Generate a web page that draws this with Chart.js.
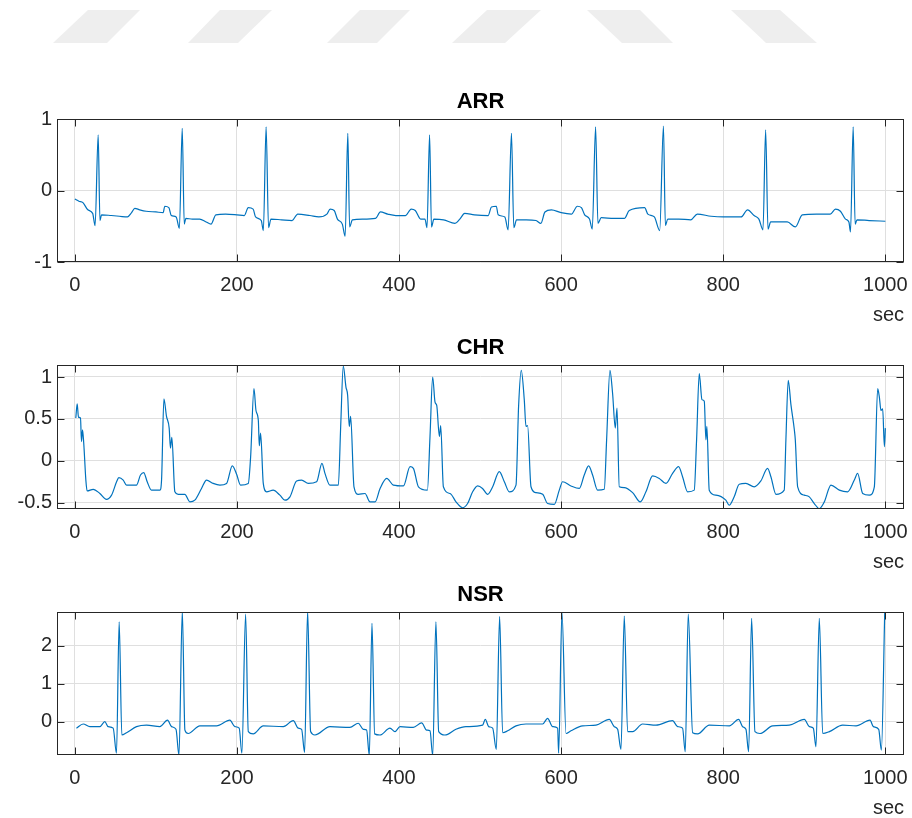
<!DOCTYPE html>
<html>
<head>
<meta charset="utf-8">
<script src="https://cdn.jsdelivr.net/npm/chart.js@4.4.1/dist/chart.umd.min.js"></script>
<style>
    html, body { margin: 0; padding: 0; background: #fff; overflow: hidden; }
    body { width: 912px; height: 818px; position: relative; }
    canvas { position: absolute; left: 0; }
    #wm { position: absolute; left: 0; top: 0; }
</style>
</head>
<body>
<svg id="wm" width="912" height="60">
    <g fill="#eeeeee">
        <polygon points="88,10 140,10 107,43 53,43"/>
        <polygon points="220,10 272,10 238,43 188,43"/>
        <polygon points="360,10 410,10 377,43 327,43"/>
        <polygon points="487,10 541,10 505,43 452,43"/>
        <polygon points="587,10 640,10 673,43 622,43"/>
        <polygon points="731,10 780,10 817,43 766,43"/>
    </g>
</svg>
<canvas id="arrChart" width="912" height="250" style="top:80px"></canvas>
<canvas id="chrChart" width="912" height="251" style="top:326px"></canvas>
<canvas id="nsrChart" width="912" height="250" style="top:573px"></canvas>
<script>
// x axis shared by all three panels
const xTicks = [0, 200, 400, 600, 800, 1000];

// ARR
const arrX = [0, 5, 10, 16, 22, 25, 28.8, 31, 33, 45, 55, 65, 70, 74, 80, 88, 100, 109, 111, 116, 119, 125, 129, 132.5, 135, 137, 145, 154, 162, 168, 174, 186, 200, 209, 214, 220, 223, 230, 232.6, 236, 239, 242, 255, 268, 275, 290, 301, 311, 315, 320, 324, 330, 333.5, 336.8, 339, 342.5, 355, 371, 377, 386, 396, 408, 415, 420, 426.7, 432, 434.5, 437.7, 440, 443, 455, 469, 475, 481, 493, 510, 514, 520, 522.3, 530.5, 534.6, 538.7, 541.6, 545, 557, 569, 575, 580, 588, 600, 612.6, 620, 625, 629, 635, 638.4, 642.5, 645.4, 649.5, 665, 678, 684, 703, 707, 715, 721.6, 726.2, 728.6, 731.5, 745, 760, 768, 785, 800, 822, 830, 838, 844, 849, 852.3, 855.2, 858.5, 870, 879, 889, 897.5, 915, 932, 938.5, 944.6, 950.8, 955, 957, 960.3, 962.7, 965, 980, 1000];
const arrY = [-0.12, -0.15, -0.17, -0.27, -0.32, -0.49, 0.78, -0.42, -0.34, -0.35, -0.36, -0.37, -0.31, -0.25, -0.27, -0.29, -0.30, -0.31, -0.22, -0.24, -0.35, -0.37, -0.53, 0.87, -0.47, -0.39, -0.40, -0.40, -0.44, -0.47, -0.34, -0.33, -0.34, -0.35, -0.24, -0.26, -0.37, -0.42, -0.56, 0.89, -0.52, -0.40, -0.41, -0.42, -0.33, -0.35, -0.37, -0.33, -0.26, -0.28, -0.40, -0.47, -0.64, 0.80, -0.51, -0.41, -0.40, -0.39, -0.30, -0.33, -0.35, -0.35, -0.26, -0.28, -0.40, -0.40, -0.52, 0.78, -0.51, -0.40, -0.41, -0.46, -0.40, -0.32, -0.34, -0.35, -0.23, -0.22, -0.34, -0.37, -0.55, 0.80, -0.52, -0.41, -0.41, -0.42, -0.46, -0.30, -0.27, -0.31, -0.33, -0.22, -0.24, -0.34, -0.40, -0.54, 0.89, -0.46, -0.38, -0.39, -0.39, -0.28, -0.24, -0.33, -0.37, -0.56, 0.90, -0.49, -0.40, -0.40, -0.41, -0.33, -0.36, -0.37, -0.37, -0.27, -0.35, -0.40, -0.55, 0.85, -0.54, -0.44, -0.44, -0.44, -0.51, -0.34, -0.33, -0.33, -0.26, -0.29, -0.40, -0.44, -0.58, 0.89, -0.47, -0.41, -0.42, -0.43];
const arrYTicks = [-1, 0, 1];

// CHR
const chrX = [1.2, 2.9, 4.5, 7, 8.2, 9.5, 11, 13.6, 15.2, 22.7, 30.9, 39, 45.3, 51.5, 54.3, 59.7, 63.8, 76, 81, 85, 89.3, 94.5, 105, 107, 109.9, 113.1, 116.4, 118, 119.7, 123.4, 127.5, 135.7, 141.9, 148, 156.3, 162.5, 170.7, 179, 187.2, 194.3, 199.6, 204.5, 214, 216.9, 221, 223.5, 226.4, 227.6, 229.2, 232.5, 236.6, 244.7, 253, 259.2, 265.4, 273.6, 279.8, 288, 298.3, 304.9, 308.6, 314.8, 325.1, 328, 331.2, 334.5, 336.6, 338.6, 340.3, 344.4, 349.8, 358, 364.2, 370.4, 376.6, 384.8, 393, 405.4, 413.6, 417.7, 423.9, 435, 438.2, 441.5, 444.4, 446.5, 449.8, 451.4, 454.7, 463, 470.3, 478.4, 484.6, 490.8, 497, 503, 509.3, 515.5, 523.7, 529.9, 536.1, 544.3, 547.5, 550.8, 554.5, 556.6, 558.6, 562.8, 569, 577.2, 583.3, 591.6, 597.7, 601.8, 612.1, 622.4, 628.5, 633.9, 638.8, 645, 653.2, 656.1, 660.2, 663.5, 666.8, 668.9, 671.7, 677.9, 688.2, 697.6, 704.6, 712.9, 721.1, 729.3, 737.5, 744.9, 749.8, 756, 764.2, 767.1, 770.4, 773.7, 776.6, 778.6, 779.8, 782.7, 790.9, 803.2, 807.3, 813.5, 819.7, 827.9, 838.2, 846.4, 854.7, 858.8, 865, 875.2, 877.3, 880.2, 883.5, 887.7, 888.9, 891.8, 900, 906.2, 912.3, 918.5, 924.7, 932.9, 943.2, 953.5, 961.7, 965.8, 972, 980.2, 986.4, 990.5, 992.6, 994.6, 996.7, 998.8, 1000];
const chrY = [0.51, 0.68, 0.52, 0.51, 0.23, 0.37, 0.21, -0.23, -0.36, -0.34, -0.39, -0.46, -0.41, -0.25, -0.20, -0.23, -0.29, -0.29, -0.17, -0.14, -0.25, -0.35, -0.35, -0.23, 0.74, 0.53, 0.39, 0.15, 0.28, -0.37, -0.40, -0.40, -0.49, -0.47, -0.33, -0.23, -0.27, -0.29, -0.27, -0.06, -0.16, -0.29, -0.27, 0.05, 0.86, 0.60, 0.48, 0.18, 0.33, -0.27, -0.37, -0.35, -0.41, -0.47, -0.43, -0.24, -0.23, -0.27, -0.25, -0.03, -0.15, -0.29, -0.29, 0.41, 1.13, 0.88, 0.78, 0.41, 0.53, -0.31, -0.40, -0.39, -0.49, -0.49, -0.33, -0.21, -0.29, -0.30, -0.07, -0.09, -0.31, -0.35, 0.29, 1.00, 0.70, 0.66, 0.29, 0.42, -0.31, -0.39, -0.49, -0.56, -0.51, -0.37, -0.30, -0.33, -0.40, -0.31, -0.13, -0.25, -0.37, -0.29, 0.65, 1.08, 0.73, 0.41, 0.42, -0.31, -0.38, -0.40, -0.51, -0.52, -0.35, -0.25, -0.30, -0.33, -0.17, -0.06, -0.17, -0.35, -0.34, 0.25, 1.08, 0.80, 0.39, 0.63, -0.31, -0.32, -0.38, -0.49, -0.37, -0.18, -0.21, -0.27, -0.15, -0.07, -0.19, -0.37, -0.35, 0.25, 1.04, 0.73, 0.71, 0.25, 0.41, -0.35, -0.41, -0.47, -0.53, -0.43, -0.28, -0.27, -0.31, -0.24, -0.09, -0.19, -0.40, -0.35, 0.25, 0.96, 0.67, 0.37, 0.25, -0.31, -0.41, -0.43, -0.51, -0.57, -0.49, -0.29, -0.35, -0.37, -0.23, -0.15, -0.39, -0.41, -0.31, 0.86, 0.76, 0.60, 0.62, 0.17, 0.39];
const chrYTicks = [-0.5, 0, 0.5, 1];

// NSR
const nsrX = [2, 10.3, 18.5, 30.9, 37, 41.1, 47.3, 51.4, 54.7, 58, 63.8, 76.1, 88.5, 104.9, 114.4, 119.4, 124.8, 128.5, 132.6, 135.8, 139.9, 154.3, 174.9, 191.3, 197.5, 202.8, 206.1, 210.7, 214, 220.1, 232.5, 257.2, 269.5, 275.7, 279.8, 283.5, 287.2, 290.9, 296.2, 314.8, 339.4, 349.7, 355.9, 360, 363.3, 366.6, 369.9, 376.5, 388.8, 395, 401.2, 417.6, 427.9, 434, 438.2, 441.5, 445.5, 448.9, 456.6, 470.2, 482.5, 503.1, 506.4, 510.6, 515.5, 520, 524.1, 527.8, 534, 544.3, 556.6, 577.2, 583.3, 589.5, 595.7, 596.9, 601, 606, 612.1, 626.5, 643, 659.4, 665.6, 669.7, 673.8, 677.9, 682, 688.2, 700.5, 717, 737.5, 743.7, 749.8, 753.1, 756.8, 762.2, 768.4, 782.8, 807.5, 819, 823.9, 828, 831.3, 835, 839.1, 845.3, 860.9, 881.5, 900, 906.2, 911.1, 914.4, 918.5, 922.7, 930.9, 947.3, 963.8, 981.1, 985.2, 991.8, 995.1, 999.2];
const nsrY = [-0.17, -0.06, -0.13, -0.13, 0.00, -0.13, -0.17, -0.83, 2.63, -0.35, -0.29, -0.13, -0.09, -0.13, 0.04, -0.13, -0.20, -0.88, 2.92, -0.22, -0.31, -0.11, -0.11, 0.04, -0.13, -0.17, -0.83, 2.83, -0.26, -0.32, -0.11, -0.13, 0.03, -0.17, -0.20, -0.81, 2.92, -0.26, -0.35, -0.13, -0.15, -0.04, -0.20, -0.22, -0.88, 2.59, -0.32, -0.35, -0.17, -0.26, -0.13, -0.15, -0.03, -0.22, -0.24, -0.88, 2.63, -0.26, -0.35, -0.20, -0.13, -0.09, 0.06, -0.13, -0.17, -0.73, 2.77, -0.29, -0.24, -0.11, -0.06, -0.06, 0.09, -0.13, -0.17, -0.83, 2.88, -0.31, -0.24, -0.11, -0.09, 0.06, -0.13, -0.20, -0.73, 2.78, -0.26, -0.26, -0.06, -0.09, 0.03, -0.13, -0.17, -0.79, 2.83, -0.29, -0.32, -0.09, -0.11, 0.06, -0.13, -0.20, -0.79, 2.72, -0.26, -0.31, -0.11, -0.09, 0.06, -0.13, -0.17, -0.66, 2.72, -0.31, -0.26, -0.09, -0.11, 0.04, -0.13, -0.20, -0.75, 2.86];
const nsrYTicks = [0, 1, 2];

const lineColor = '#0072BD';
const axisColor = '#262626';
const gridColor = '#dfdfdf';
const fontFamily = "'Liberation Sans', Arial, Helvetica, sans-serif";

// MATLAB-like box with inward tick marks
const boxPlugin = {
    id: 'box',
    afterDraw(chart) {
        const { ctx, chartArea: a, scales: { x, y } } = chart;
        const l = Math.round(a.left) + 0.5, r = Math.round(a.right) - 0.5;
        const t = Math.round(a.top) + 0.5, b = Math.round(a.bottom) - 0.5;
        ctx.save();
        ctx.strokeStyle = axisColor;
        ctx.lineWidth = 1;
        ctx.beginPath();
        x.ticks.forEach(tk => {
            const px = Math.round(x.getPixelForValue(tk.value)) + 0.5;
            ctx.moveTo(px, b); ctx.lineTo(px, b - 7);
            ctx.moveTo(px, t); ctx.lineTo(px, t + 7);
        });
        y.ticks.forEach(tk => {
            const py = Math.round(y.getPixelForValue(tk.value)) + 0.5;
            ctx.moveTo(l, py); ctx.lineTo(l + 7, py);
            ctx.moveTo(r, py); ctx.lineTo(r - 7, py);
        });
        ctx.stroke();
        ctx.strokeRect(l, t, r - l, b - t);
        ctx.restore();
    }
};

function makeChart(id, title, xs, ys, yMin, yMax, yTicks) {
    const ctx = document.getElementById(id);
    return new Chart(ctx, {
        type: 'line',
        data: {
            datasets: [{
                data: xs.map((v, i) => ({ x: v, y: ys[i] })),
                borderColor: lineColor,
                borderWidth: 1.2,
                pointRadius: 0,
                cubicInterpolationMode: 'monotone',
                clip: 0
            }]
        },
        options: {
            responsive: false,
            animation: false,
            layout: { padding: { top: 9, right: 8, bottom: 0, left: 0 } },
            plugins: {
                legend: { display: false },
                tooltip: { enabled: false },
                title: {
                    display: true,
                    text: title,
                    fullSize: false,
                    color: '#000',
                    font: { family: fontFamily, size: 22, weight: 'bold', lineHeight: 1.2 },
                    padding: { top: 0, bottom: 3.6 }
                }
            },
            scales: {
                x: {
                    type: 'linear',
                    min: -22,
                    max: 1023,
                    afterBuildTicks: s => { s.ticks = xTicks.map(v => ({ value: v })); },
                    afterFit: s => { s.height = 68; s.paddingLeft = 0; s.paddingRight = 0; },
                    grid: { color: gridColor, drawTicks: false },
                    border: { display: false },
                    ticks: {
                        color: axisColor,
                        padding: 11.5,
                        maxRotation: 0,
                        font: { family: fontFamily, size: 20 },
                        callback: v => String(v)
                    },
                    title: {
                        display: true,
                        text: 'sec',
                        align: 'end',
                        color: axisColor,
                        font: { family: fontFamily, size: 20 },
                        padding: { top: 0, bottom: 3 }
                    }
                },
                y: {
                    min: yMin,
                    max: yMax,
                    afterBuildTicks: s => { s.ticks = yTicks.map(v => ({ value: v })); },
                    afterFit: s => { s.width = 57; s.paddingTop = 0; s.paddingBottom = 0; },
                    grid: { color: gridColor, drawTicks: false },
                    border: { display: false },
                    ticks: {
                        color: axisColor,
                        padding: 5,
                        font: { family: fontFamily, size: 20 },
                        callback: v => String(v)
                    }
                }
            }
        },
        plugins: [boxPlugin]
    });
}

makeChart('arrChart', 'ARR', arrX, arrY, -1, 1, arrYTicks);
makeChart('chrChart', 'CHR', chrX, chrY, -0.575, 1.143, chrYTicks);
makeChart('nsrChart', 'NSR', nsrX, nsrY, -0.876, 2.887, nsrYTicks);
</script>
</body>
</html>
